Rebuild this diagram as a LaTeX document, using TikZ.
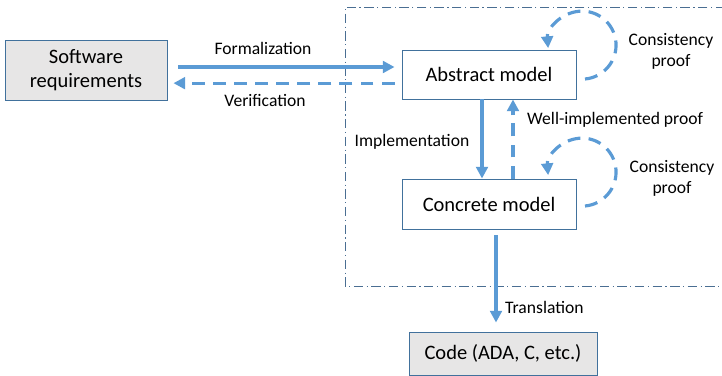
\documentclass[tikz,border=0pt]{standalone}
\usepackage{fontspec}
\setmainfont{Carlito}
\usetikzlibrary{positioning, arrows.meta, calc}
\definecolor{flowblue}{HTML}{5B9BD5}
\definecolor{edgeblue}{HTML}{41719C}
\definecolor{framegray}{HTML}{4A6E92}
\definecolor{boxgray}{HTML}{E7E6E6}
\tikzset{
  model/.style={rectangle, draw=edgeblue, line width=0.8pt, fill=white, minimum width=5.22cm, minimum height=1.47cm, text centered, font=\fontsize{17.5}{21}\selectfont},
  outer/.style={model, fill=boxgray, align=center},
  flow/.style={draw=flowblue, line width=2.7pt, -{Triangle[length=10pt,width=10pt]}},
  proof/.style={flow, dash pattern=on 11pt off 7pt},
  lbl/.style={font=\fontsize{15}{18}\selectfont, inner sep=0pt},
  frame/.style={draw=framegray, line width=0.8pt, dash pattern=on 8pt off 3pt on 1pt off 3pt}
}

\begin{document}
\begin{tikzpicture}[x=0.03cm, y=-0.03cm]
        \useasboundingbox (0,0) rectangle (722,376);

        % outer frame of the formal part
        \draw[frame] (725,7) -- (345,7) -- (345,286) -- (725,286);

        \node (soft) [outer, minimum width=4.86cm, minimum height=1.8cm] at (86,70) {Software\\requirements};
        \node (abs) [model] at (489,74.5) {Abstract model};
        \node (con) [model, minimum height=1.5cm] at (489,204) {Concrete model};
        \node (code) [outer, minimum width=5.64cm, minimum height=1.29cm] at (503,353.5) {Code (ADA, C, etc.)};

        \coordinate (fin) at ([yshift=2.25mm]abs.west);
        \coordinate (vin) at ([yshift=-2.6mm]abs.west);
        \draw[flow, shorten <=3.3mm, shorten >=2.1mm] (soft.east |- fin) -- (fin);
        \draw[proof, shorten <=2.1mm, shorten >=1.8mm] (vin) -- (soft.east |- vin);
        \node (lform) [lbl] at (263,48) {Formalization};
        \node (lver) [lbl] at (265,100) {Verification};

        \draw[flow] ([xshift=-2.1mm]abs.south) -- ([xshift=-2.1mm]con.north);
        \draw[proof] ([xshift=7.2mm]con.north) -- ([xshift=7.2mm]abs.south);
        \node (limpl) [lbl] at (412,142) {Implementation};
        \node (lwell) [lbl, anchor=west] at (527,120) {Well-implemented proof};

        \draw[flow, shorten <=1.8mm, shorten >=2.7mm] ([xshift=2.1mm]con.south) -- ([xshift=2.1mm]con.south |- code.north);
        \node (ltrans) [lbl, anchor=west] at (505,307) {Translation};

        % consistency loops
        \coordinate (la) at (585,79);
        \coordinate (lc) at (585,206);
        \draw[proof] (la) arc[start angle=-85, end angle=185, radius=1.02cm];
        \draw[proof] (lc) arc[start angle=-85, end angle=185, radius=1.02cm];
        \node (cabs) [lbl, align=center] at (671,51) {Consistency\\proof};
        \node (ccon) [lbl, align=center] at (672,178) {Consistency\\proof};
\end{tikzpicture}
\end{document}
